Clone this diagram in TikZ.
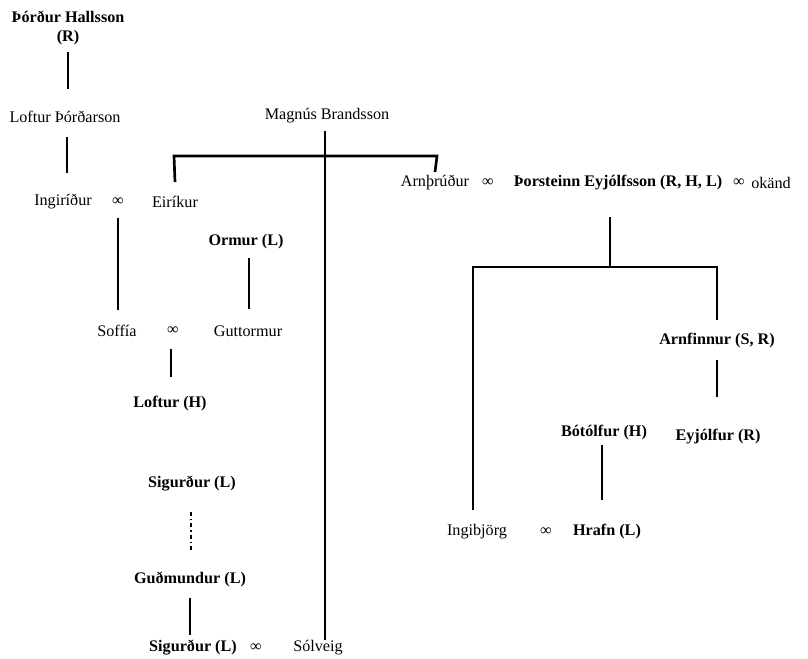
\documentclass[tikz,border=0pt]{standalone}
\usepackage{fontspec}
\setmainfont{Liberation Serif}
\tikzset{
  person/.style={inner sep=1pt, font=\fontsize{11.5}{13.5}\selectfont},
  known/.style={person, font=\fontsize{11.5}{13.5}\selectfont\bfseries},
  famline/.style={line width=1.9pt},
  thinline/.style={line width=0.9pt},
  unsure/.style={line width=1pt, dash pattern=on 3pt off 2pt on 1pt off 2pt}
}
\begin{document}
\begin{tikzpicture}[x=0.025cm, y=-0.025cm]
\useasboundingbox (0,0) rectangle (808,658);
% people
\node[known, align=center] (thordur) at (68,28) {Þórður Hallsson\\(R)};
\node[person] (loftur) at (65,117) {Loftur Þórðarson};
\node[person] (magnus) at (327,116) {Magnús Brandsson};
\node[person] (ingiridur) at (63,202) {Ingiríður};
\node[person] (m1) at (118,202) {∞};
\node[person] (eirikur) at (175,202) {Eiríkur};
\node[person] (arnthrudur) at (435,183) {Arnþrúður};
\node[person] (m2) at (488,183) {∞};
\node[known] (thorsteinn) at (618,183) {Þorsteinn Eyjólfsson (R, H, L)};
\node[person] (m3) at (739,183) {∞};
\node[person] (okand) at (771,183) {okänd};
\node[known] (ormur) at (246,242) {Ormur (L)};
\node[person] (soffia) at (117,331) {Soffía};
\node[person] (m4) at (173,331) {∞};
\node[person] (guttormur) at (248,331) {Guttormur};
\node[known] (lofturH) at (170,404) {Loftur (H)};
\node[known] (sigurdurA) at (192,484) {Sigurður (L)};
\node[known] (gudmundur) at (190,579) {Guðmundur (L)};
\node[known] (sigurdurB) at (193,648) {Sigurður (L)};
\node[person] (m5) at (256,648) {∞};
\node[person] (solveig) at (318,648) {Sólveig};
\node[known] (arnfinnur) at (717,341) {Arnfinnur (S, R)};
\node[known] (eyjolfur) at (718,437) {Eyjólfur (R)};
\node[known] (botolfur) at (604,433) {Bótólfur (H)};
\node[person] (ingibjorg) at (477,532) {Ingibjörg};
\node[person] (m6) at (546,532) {∞};
\node[known] (hrafn) at (607,532) {Hrafn (L)};
% lines of descent
\draw[thinline] (thordur.center |- 0,52) -- (thordur.center |- 0,89);
\draw[famline] (67,137) -- (67,173);
\draw[famline] (eirikur.center |- 0,182) -- (174,156) -- (437,156) -- (arnthrudur.center |- 0,172);
\draw[line width=1.2pt] (325,131) -- (325,640);
\draw[famline] (m1.center |- 0,218) -- (m1.center |- 0,310);
\draw[thinline] (249,258) -- (249,309);
\draw[thinline] (171,349) -- (171,377);
\draw[unsure] (191,512) -- (191,550);
\draw[famline] (190,598) -- (190,635);
\draw[thinline] (610,217) -- (610,267);
\draw[famline] (473,510) -- (473,267) -- (717,267) -- (717,320);
\draw[famline] (717,360) -- (717,397);
\draw[famline] (602,445) -- (602,500);
\end{tikzpicture}
\end{document}
